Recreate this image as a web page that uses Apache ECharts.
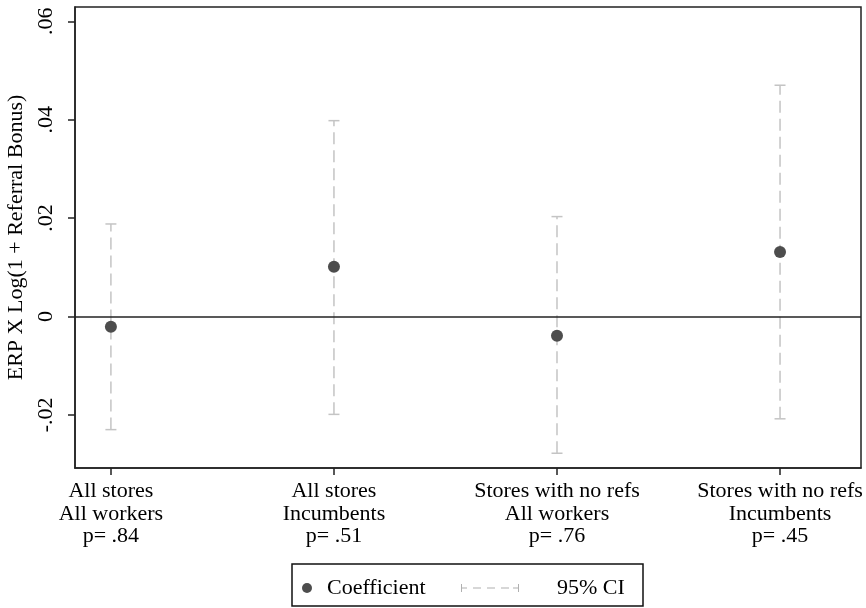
<!DOCTYPE html>
<html>
<head>
<meta charset="utf-8">
<script src="https://cdn.jsdelivr.net/npm/echarts@6/dist/echarts.min.js"></script>
<style>
html,body{margin:0;padding:0;background:#fff;}
#chart{width:866px;height:608px;}
</style>
</head>
<body>
<div id="chart"></div>
<script>
// ---- data ----
var positions = [1, 2, 3, 4];
var groupLabels = ['All stores', 'All stores', 'Stores with no refs', 'Stores with no refs'];
var sampleLabels = ['All workers', 'Incumbents', 'All workers', 'Incumbents'];
var pValues = ['p= .84', 'p= .51', 'p= .76', 'p= .45'];
var coefficients = [-0.0021, 0.0101, -0.0039, 0.0131];
var ciLower = [-0.0230, -0.0199, -0.0278, -0.0208];
var ciUpper = [0.0188, 0.0398, 0.0203, 0.0470];
var yTickValues = [-0.02, 0, 0.02, 0.04, 0.06];
var yTickLabels = ['-.02', '0', '.02', '.04', '.06'];

var FONT = 'Liberation Serif';
var pointData = positions.map(function (x, i) { return [x, coefficients[i]]; });
var ciData = positions.map(function (x, i) { return [x, ciLower[i], ciUpper[i]]; });

var chart = echarts.init(document.getElementById('chart'), null, {renderer: 'canvas'});
var option = {
  backgroundColor: '#fff',
  animation: false,
  grid: {
    left: 75, right: 5, top: 7, bottom: 140,
    outerBoundsMode: 'none', containLabel: false,
    show: true, borderColor: '#222', borderWidth: 1.5, backgroundColor: '#fff'
  },
  xAxis: {
    type: 'value', min: 0.839, max: 4.363,
    splitLine: {show: false},
    axisLine: {show: true, onZero: false, lineStyle: {color: '#222', width: 1.5}},
    axisTick: {show: true, length: 7, customValues: positions, lineStyle: {color: '#222', width: 1.5}},
    axisLabel: {
      customValues: positions, margin: 12,
      fontFamily: FONT, fontSize: 22, lineHeight: 22.5, color: '#000',
      formatter: function (v) {
        var i = positions.indexOf(Math.round(v));
        if (i < 0) return '';
        return groupLabels[i] + '\n' + sampleLabels[i] + '\n' + pValues[i];
      }
    }
  },
  yAxis: {
    type: 'value', min: -0.0308, max: 0.0629,
    name: 'ERP X Log(1 + Referral Bonus)', nameLocation: 'middle', nameGap: 35,
    nameTextStyle: {fontFamily: FONT, fontSize: 22, color: '#000'},
    splitLine: {show: false},
    axisLine: {show: true, onZero: false, lineStyle: {color: '#222', width: 1.5}},
    axisTick: {show: true, length: 7, customValues: yTickValues, lineStyle: {color: '#222', width: 1.5}},
    axisLabel: {
      customValues: yTickValues, rotate: 90, margin: 18,
      fontFamily: FONT, fontSize: 22, color: '#000',
      formatter: function (v) {
        for (var i = 0; i < yTickValues.length; i++) {
          if (Math.abs(v - yTickValues[i]) < 1e-9) return yTickLabels[i];
        }
        return '';
      }
    }
  },
  legend: [
    {
      data: [{name: 'Coefficient', icon: 'circle'}],
      left: 297, top: 572, itemWidth: 10, itemHeight: 10,
      selectedMode: false,
      textStyle: {fontFamily: FONT, fontSize: 22, color: '#000', padding: [0, 0, 0, 10]}
    },
    {
      data: [{name: '95% CI', icon: 'path://M0,0h1v8h-1zM1,3.5h5v1h-5zM12,3.5h8v1h-8zM26,3.5h8v1h-8zM40,3.5h8v1h-8zM52,3.5h5v1h-5zM57,0h1v8h-1z'}],
      left: 456, top: 572, itemWidth: 58, itemHeight: 8,
      selectedMode: false,
      textStyle: {fontFamily: FONT, fontSize: 22, color: '#000', padding: [0, 0, 0, 33]}
    }
  ],
  graphic: [
    {
      type: 'rect', z: -1,
      shape: {x: 292, y: 564, width: 351, height: 42},
      style: {fill: 'none', stroke: '#111', lineWidth: 1.5}
    }
  ],
  series: [
    {
      name: '95% CI', type: 'custom', z: 2,
      itemStyle: {color: '#b0b0b0'},
      encode: {x: 0, y: [1, 2]},
      data: ciData,
      renderItem: function (params, api) {
        var x = api.value(0);
        var lo = api.coord([x, api.value(1)]);
        var hi = api.coord([x, api.value(2)]);
        var c = '#c4c4c4';
        var cap = 5.5;
        return {
          type: 'group',
          children: [
            {type: 'line', shape: {x1: lo[0], y1: lo[1], x2: hi[0], y2: hi[1]},
             style: {stroke: c, lineWidth: 1.5, lineDash: [12, 6]}},
            {type: 'line', shape: {x1: lo[0] - cap, y1: lo[1], x2: lo[0] + cap, y2: lo[1]},
             style: {stroke: c, lineWidth: 1.5}},
            {type: 'line', shape: {x1: hi[0] - cap, y1: hi[1], x2: hi[0] + cap, y2: hi[1]},
             style: {stroke: c, lineWidth: 1.5}}
          ]
        };
      }
    },
    {
      name: 'Coefficient', type: 'scatter', z: 3,
      symbol: 'circle', symbolSize: 12,
      itemStyle: {color: '#4d4d4d', opacity: 1},
      data: pointData,
      markLine: {
        silent: true, symbol: 'none', label: {show: false},
        lineStyle: {color: '#222', width: 1.5, type: 'solid'},
        data: [{yAxis: 0}]
      }
    }
  ]
};
chart.setOption(option);
</script>
</body>
</html>
